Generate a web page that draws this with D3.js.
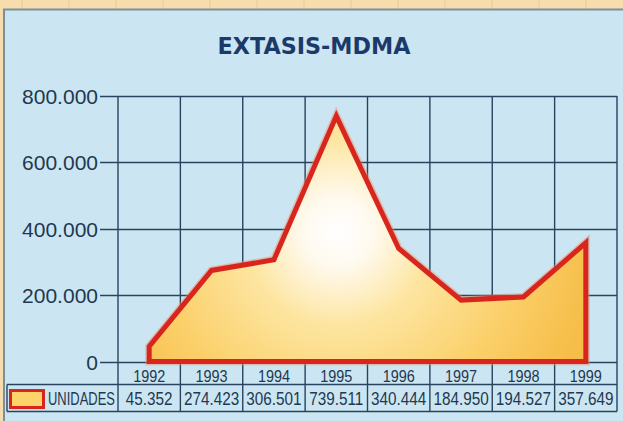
<!DOCTYPE html>
<html><head><meta charset="utf-8">
<script src="https://cdn.jsdelivr.net/npm/d3@7"></script>
<style>
html,body{margin:0;padding:0;background:#f7dcae;}
svg{display:block;}
</style></head>
<body>
<svg id="chart" width="623" height="421"></svg>
<script>
const title = "EXTASIS-MDMA";
const years = ["1992","1993","1994","1995","1996","1997","1998","1999"];
const unidades = [45352, 274423, 306501, 739511, 340444, 184950, 194527, 357649];
const yTicks = [0, 200000, 400000, 600000, 800000];
const seriesName = "UNIDADES";

(function () {
const svg = d3.select("#chart");
const W = 623, H = 421;
const plotL = 118, plotR = 617, plotT = 96, zeroY = 361.5, rowY = 384.5, tableB = 411.5;
const navy = "#28435e";
const txt = "#1f3850";
const sans = "'Liberation Sans', Arial, sans-serif";

const defs = svg.append("defs");
svg.append("rect").attr("width", W).attr("height", H).attr("fill", "#f7dcae");
for (let gx = 22; gx < W; gx += 47) svg.append("line").attr("x1", gx).attr("x2", gx).attr("y1", 0).attr("y2", 10).attr("stroke", "#e9c592").attr("stroke-width", 0.8);
svg.append("rect").attr("x", 4).attr("y", 9.5).attr("width", W).attr("height", H)
  .attr("fill", "#cbe6f2").attr("stroke", "#7d8f98").attr("stroke-width", 2);

svg.append("text").attr("x", 314).attr("y", 54).attr("text-anchor", "middle")
  .attr("font-family", "'DejaVu Sans', sans-serif").attr("font-weight", "bold")
  .attr("font-size", 23).attr("textLength", 193).attr("lengthAdjust", "spacingAndGlyphs")
  .attr("fill", "#1b3a6b").text(title);

const x = d3.scaleBand().domain(years).range([plotL, plotR]).padding(0);
const y = d3.scaleLinear().domain([0, 800000]).range([zeroY, plotT]);
const fmt = v => v === 0 ? "0" : d3.format(",")(v).replace(/,/g, ".");

const gAxis = svg.append("g").attr("transform", "translate(100,0)")
  .call(d3.axisLeft(y).tickValues(yTicks).tickSize(0).tickFormat(fmt));
gAxis.select(".domain").remove();
gAxis.selectAll("text").attr("x", -2).attr("dy", "0.36em")
  .attr("font-family", sans).attr("font-size", 21)
  .attr("fill", txt);
svg.append("g").selectAll("line").data(yTicks).join("line")
  .attr("x1", 100).attr("x2", plotR).attr("y1", d => Math.round(y(d)) + 0.5).attr("y2", d => Math.round(y(d)) + 0.5)
  .attr("stroke", navy).attr("stroke-width", 1.4);

const bounds = years.map(d => x(d)).concat([plotR]);
svg.append("g").selectAll("line").data(bounds).join("line")
  .attr("x1", d => d).attr("x2", d => d).attr("y1", plotT).attr("y2", tableB)
  .attr("stroke", navy).attr("stroke-width", 1.4);

const grad = defs.append("radialGradient").attr("id", "fillGrad")
  .attr("gradientUnits", "userSpaceOnUse").attr("cx", 338).attr("cy", 232).attr("r", 260);
grad.append("stop").attr("offset", "0").attr("stop-color", "#ffffff");
grad.append("stop").attr("offset", "0.13").attr("stop-color", "#fffaf0");
grad.append("stop").attr("offset", "0.36").attr("stop-color", "#fde5a0");
grad.append("stop").attr("offset", "0.7").attr("stop-color", "#fbd06a");
grad.append("stop").attr("offset", "1").attr("stop-color", "#f6bd48");

const pts = unidades.map((v, i) => [x(years[i]) + x.bandwidth() / 2, y(v)]);
const poly = [[pts[0][0], y(0)], ...pts, [pts[pts.length - 1][0], y(0)]];
const line = d3.line().curve(d3.curveLinearClosed);
svg.append("path").attr("d", line(poly)).attr("fill", "none")
  .attr("stroke", "#f08a60").attr("stroke-width", 8).attr("stroke-linejoin", "miter").attr("opacity", 0.45);
svg.append("path").attr("d", line(poly)).attr("fill", "url(#fillGrad)")
  .attr("stroke", "#d8261e").attr("stroke-width", 5).attr("stroke-linejoin", "miter");

svg.append("line").attr("x1", 7).attr("x2", plotR).attr("y1", rowY).attr("y2", rowY).attr("stroke", navy).attr("stroke-width", 1.4);
svg.append("line").attr("x1", 7).attr("x2", plotR).attr("y1", tableB).attr("y2", tableB).attr("stroke", navy).attr("stroke-width", 1.4);
svg.append("line").attr("x1", 7).attr("x2", 7).attr("y1", rowY).attr("y2", tableB).attr("stroke", navy).attr("stroke-width", 1.4);

svg.append("g").selectAll("text").data(years).join("text")
  .attr("transform", d => `translate(${x(d) + x.bandwidth() / 2},382) scale(0.85,1)`)
  .attr("text-anchor", "middle")
  .attr("font-family", sans).attr("font-size", 17)
  .attr("fill", txt).text(d => d);

svg.append("g").selectAll("text").data(unidades).join("text")
  .attr("transform", (d, i) => `translate(${x(years[i]) + x.bandwidth() / 2},405) scale(0.85,1)`)
  .attr("text-anchor", "middle")
  .attr("font-family", sans).attr("font-size", 18)
  .attr("fill", txt).text(d => fmt(d));

svg.append("rect").attr("x", 10.5).attr("y", 390.5).attr("width", 33).attr("height", 17)
  .attr("fill", "#fcd46a").attr("stroke", "#d8261e").attr("stroke-width", 3);
svg.append("text").attr("transform", "translate(48,405) scale(0.72,1)")
  .attr("font-family", sans).attr("font-size", 18)
  .attr("fill", txt).text(seriesName);
})();
</script>
</body></html>
